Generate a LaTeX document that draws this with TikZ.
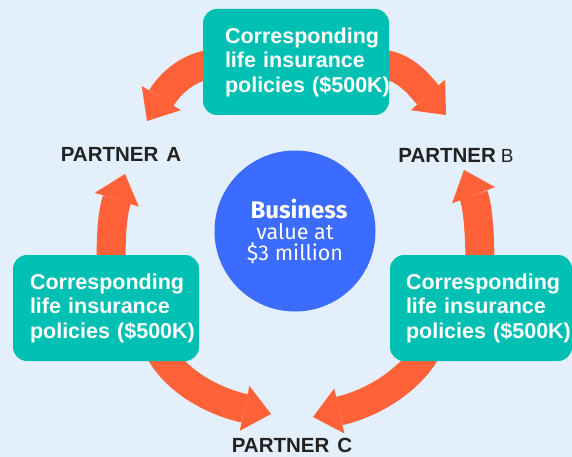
\documentclass[tikz,border=0pt]{standalone}
\usepackage{fontspec}
\setmainfont{Liberation Sans}
\newfontfamily\circfont{Fira Sans}
\usetikzlibrary{arrows.meta}
\definecolor{bgc}{HTML}{E3F0FB}
\definecolor{tealc}{HTML}{00BFB3}
\definecolor{orangec}{HTML}{FF6138}
\definecolor{bluec}{HTML}{3B6BFF}
\definecolor{darkc}{HTML}{222222}
\tikzset{
  policybox/.style={fill=tealc, rounded corners=14pt, minimum height=106pt,
    text=white, align=left, font=\bfseries\fontsize{21.5}{24.5}\selectfont, inner ysep=0pt},
  partner/.style={text=darkc, font=\bfseries\fontsize{20.5}{24}\selectfont, inner sep=0pt},
  flow/.style={draw=orangec, line width=29pt,
    -{Triangle[width=46pt,length=27pt,line width=0pt,fill=orangec,color=orangec]}}
}
\begin{document}
\begin{tikzpicture}[x=1pt,y=-1pt]
\useasboundingbox (0,0) rectangle (572,457);
\fill[bgc] (0,0) rectangle (572,457);
% tips and starts
\coordinate (tA) at (147,121);
\coordinate (tB) at (446,115);
\coordinate (tA2) at (125,174);
\coordinate (tB2) at (464,170);
\coordinate (tC1) at (271,414);
\coordinate (tC2) at (313,417);
\coordinate (sA) at (214,64);
\coordinate (sB) at (378,64);
\coordinate (sL) at (111,268);
\coordinate (sR) at (480,268);
\coordinate (sLC) at (158,348);
\coordinate (sRC) at (428,348);
% arrows (beneath the boxes)
\draw[flow] (sA) .. controls (188,66) and (170,84) .. (tA);
\draw[flow] (sB) .. controls (404,64) and (420,86) .. (tB);
\draw[flow] (sL) .. controls (111,235) and (112,215) .. (tA2);
\draw[flow] (sR) .. controls (480,235) and (478,207) .. (tB2);
\draw[flow] (sLC) .. controls (175,382) and (215,402) .. (tC1);
\draw[flow] (sRC) .. controls (410,382) and (370,404) .. (tC2);
% nodes
\node[policybox, minimum width=186pt, text width=142pt, inner xsep=22pt] (top) at (296,62)
  {Corresponding\\life~insurance\\policies~(\$500K)};
\node[policybox, minimum width=186pt, text width=152pt, inner xsep=17pt] (left) at (106,308)
  {Corresponding\\life~insurance\\policies~(\$500K)};
\node[policybox, minimum width=182pt, text width=150pt, inner xsep=16pt] (right) at (481,308)
  {Corresponding\\life~insurance\\policies~(\$500K)};
\node[circle, fill=bluec, minimum size=161pt, inner sep=0pt, text=white, align=center,
  font=\circfont\fontsize{21.5}{21}\selectfont] (biz) at (295,231)
  {{\bfseries\fontsize{24}{21}\selectfont\hspace*{8pt}Business}\\value at\\\$3 million};
\node[partner] (pa) at (121,154) {PARTNER\hspace{8pt}A};
\node[partner] (pb) at (456,155) {PARTNER\hspace{5pt}{\mdseries\fontsize{19}{24}\selectfont B}};
\node[partner] (pc) at (292,445) {PARTNER\hspace{8pt}C};
\end{tikzpicture}
\end{document}
